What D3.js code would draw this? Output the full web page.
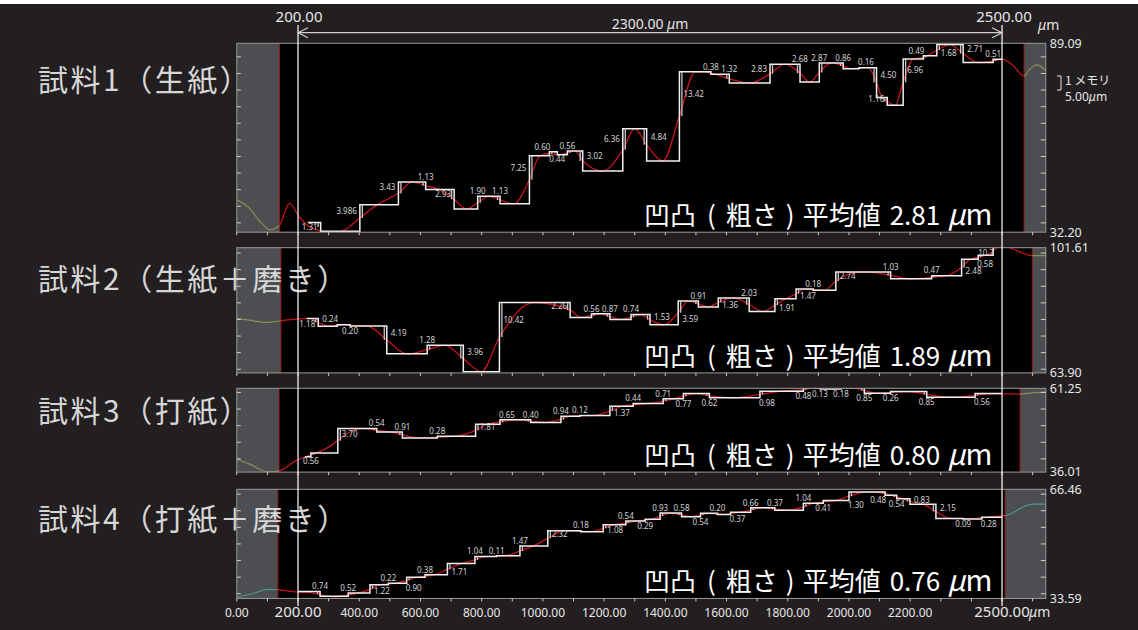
<!DOCTYPE html>
<html>
<head>
<meta charset="utf-8">
<script src="https://cdn.jsdelivr.net/npm/d3@7/dist/d3.min.js"></script>
<style>
  html, body { margin: 0; padding: 0; background: #ffffff; }
  svg { display: block; }
  text { font-family: "Noto Sans", "Noto Sans CJK JP", sans-serif; }
  .jp { font-family: "Noto Sans CJK JP", "Noto Sans", sans-serif; }
</style>
</head>
<body>
<svg id="chart" width="1138" height="630"></svg>
<script>
// ---------------- data ----------------
const sampleNames = ['試料1（生紙）', '試料2（生紙＋磨き）', '試料3（打紙）', '試料4（打紙＋磨き）'];
const averageRoughness = ['2.81', '1.89', '0.80', '0.76'];
const yMinValues = [32.20, 63.90, 36.01, 33.59];
const yMaxValues = [89.09, 101.61, 61.25, 66.46];
const maskLeftEnd = [139, 144, 138, 134];       // µm, masked zone at the left end
const maskRightStart = [2572, 2599, 2559, 2510]; // µm, masked zone at the right end
const xMaxUm = 2643;
const sectionStart = 200, sectionEnd = 2500, sectionLength = 2300;
const xTickValues = [0, 200, 400, 600, 800, 1000, 1200, 1400, 1600, 1800, 2000, 2200, 2500];
const scaleDivision = 5.00; // µm per tick

// sample 1: step profile (start position/level, step positions, half-step heights, direction)
const stepStart1 = [232, 35.10];
const stepAt1 = [274, 402, 528, 617, 710, 787, 860, 956, 1021, 1047, 1080, 1130, 1261, 1339, 1446, 1549, 1609, 1742, 1840, 1903, 1981, 2033, 2090, 2125, 2177, 2243, 2287, 2373, 2471];
const stepLabel1 = ['1.31', '3.986', '3.43', '1.13', '2.93', '1.90', '1.13', '7.25', '0.60', '0.44', '0.56', '3.02', '6.36', '4.84', '13.42', '0.38', '1.32', '2.83', '2.68', '2.87', '0.86', '0.16', '4.50', '1.16', '6.96', '0.49', '1.68', '2.71', '0.51'];
const stepDir1 = [-1, 1, 1, -1, -1, 1, -1, 1, 1, -1, 1, -1, 1, -1, 1, -1, -1, 1, -1, 1, -1, 1, -1, -1, 1, 1, 1, -1, 1];
const profile1 = [[0,42.0],[40,39.5],[80,35.0],[108,32.9],[139,34.2],[172,40.9],[205,36.7],[240,33.6],[275,32.6],[320,32.0],[360,33.3],[402,36.5],[465,40.8],[500,42.5],[528,43.9],[572,47.3],[617,46.2],[663,45.0],[710,42.1],[750,39.2],[787,41.1],[823,43.0],[860,41.9],[905,40.7],[956,48.0],[990,55.2],[1021,55.9],[1047,55.4],[1080,56.1],[1105,56.7],[1130,53.7],[1195,50.6],[1261,57.0],[1300,63.4],[1339,58.5],[1392,53.7],[1446,67.1],[1497,80.5],[1549,80.1],[1609,78.4],[1675,77.1],[1742,79.9],[1791,82.8],[1840,80.1],[1871,77.4],[1903,80.3],[1942,83.2],[1981,82.3],[2007,81.4],[2033,81.6],[2062,81.8],[2090,77.3],[2107,72.8],[2125,71.6],[2151,70.4],[2177,77.4],[2210,84.4],[2243,84.8],[2287,87.0],[2330,88.7],[2373,86.0],[2422,83.3],[2471,83.8],[2500,84.3],[2535,82.5],[2572,79.2],[2590,81.2],[2613,82.6],[2643,80.8]];

// sample 2
const stepStart2 = [228, 80.30];
const stepAt2 = [266, 328, 370, 490, 622, 740, 858, 1089, 1159, 1219, 1288, 1350, 1442, 1508, 1573, 1674, 1758, 1827, 1883, 1957, 2136, 2270, 2368, 2422, 2471];
const stepLabel2 = ['1.18', '0.24', '0.20', '4.19', '1.28', '3.96', '10.42', '2.26', '0.56', '0.87', '0.74', '1.53', '3.59', '0.91', '1.36', '2.03', '1.91', '1.47', '0.18', '2.74', '1.03', '0.47', '2.48', '0.58', '10.7'];
const stepDir2 = [-1, 1, -1, -1, 1, -1, 1, -1, 1, -1, 1, -1, 1, -1, 1, -1, 1, 1, -1, 1, -1, 1, 1, 1, 1];
const profile2 = [[0,80.3],[40,79.8],[95,79.1],[144,79.6],[200,80.2],[240,80.3],[266,79.1],[300,78.0],[328,78.2],[350,78.4],[370,78.2],[430,77.9],[490,73.8],[556,69.6],[622,70.9],[681,72.2],[740,68.2],[799,64.3],[858,74.7],[970,85.1],[1089,82.9],[1124,80.6],[1159,81.2],[1189,81.7],[1219,80.9],[1253,80.0],[1288,80.7],[1319,81.4],[1350,79.9],[1396,78.4],[1442,82.0],[1475,85.6],[1508,84.7],[1540,83.8],[1573,85.1],[1623,86.5],[1674,84.5],[1716,82.4],[1758,84.3],[1792,86.2],[1827,87.7],[1855,89.2],[1883,89.0],[1920,88.8],[1957,91.6],[2046,94.3],[2136,93.3],[2203,92.2],[2270,92.7],[2320,93.2],[2368,95.7],[2395,98.1],[2422,98.7],[2461,99.9],[2483,101.6],[2505,102.3],[2526,101.6],[2560,100.3],[2599,99.2],[2620,99.2],[2643,99.2]];

// sample 3
const stepStart3 = [223, 40.65];
const stepAt3 = [242, 330, 457, 541, 655, 780, 860, 960, 1059, 1121, 1219, 1295, 1393, 1459, 1544, 1709, 1851, 1905, 1974, 2050, 2136, 2254, 2412];
const stepLabel3 = ['0.56', '3.70', '0.54', '0.91', '0.28', '1.81', '0.65', '0.40', '0.94', '0.12', '1.37', '0.44', '0.71', '0.77', '0.62', '0.98', '0.48', '0.13', '0.18', '0.85', '0.26', '0.85', '0.56'];
const stepDir3 = [1, 1, -1, -1, 1, 1, 1, -1, 1, 1, 1, 1, 1, 1, -1, 1, 1, -1, 1, -1, 1, -1, 1];
const profile3 = [[0,39.9],[40,38.5],[103,36.1],[138,36.4],[196,39.6],[242,41.2],[290,43.0],[330,45.5],[370,48.1],[410,49.2],[457,48.6],[500,48.1],[541,47.2],[600,46.3],[655,46.5],[720,46.9],[780,48.6],[820,50.5],[860,51.1],[910,51.75],[960,51.35],[1010,50.95],[1059,51.9],[1090,52.85],[1121,52.95],[1170,53.1],[1219,54.4],[1257,55.8],[1295,56.25],[1345,56.7],[1393,57.4],[1426,58.1],[1459,58.9],[1500,59.65],[1544,59.0],[1626,58.4],[1709,59.4],[1780,60.4],[1851,60.85],[1878,61.3],[1905,61.2],[1940,61.1],[1974,61.25],[2012,61.4],[2050,60.6],[2093,59.75],[2136,60.0],[2195,60.25],[2254,59.4],[2333,58.55],[2412,59.1],[2456,59.6],[2500,59.6],[2559,59.5],[2600,59.9],[2643,60.1]];

// sample 4
const stepStart4 = [200, 35.70];
const stepAt4 = [272, 364, 435, 495, 555, 615, 688, 778, 849, 925, 1016, 1124, 1197, 1271, 1334, 1383, 1453, 1515, 1570, 1613, 1679, 1758, 1851, 1916, 2000, 2118, 2156, 2199, 2284, 2373, 2434];
const stepLabel4 = ['0.74', '0.52', '1.22', '0.22', '0.90', '0.38', '1.71', '1.04', '0.11', '1.47', '2.32', '0.18', '1.08', '0.54', '0.29', '0.93', '0.58', '0.54', '0.20', '0.37', '0.66', '0.37', '1.04', '0.41', '1.30', '0.48', '0.54', '0.83', '2.15', '0.09', '0.28'];
const stepDir4 = [-1, 1, 1, 1, 1, 1, 1, 1, 1, 1, 1, -1, 1, 1, 1, 1, -1, 1, -1, 1, 1, -1, 1, 1, 1, -1, -1, -1, -1, -1, 1];
const profile4 = [[0,34.0],[50,35.0],[103,36.3],[134,36.2],[170,35.8],[200,35.5],[236,35.4],[272,34.7],[318,34.1],[364,34.6],[400,35.3],[435,36.3],[465,37.7],[495,37.9],[525,38.3],[555,39.0],[585,39.9],[615,40.3],[650,40.8],[688,42.4],[733,44.1],[778,45.2],[813,46.2],[849,46.3],[887,46.6],[925,47.9],[970,49.4],[1016,51.7],[1070,54.0],[1124,53.8],[1160,53.7],[1197,54.7],[1234,55.8],[1271,56.3],[1303,56.9],[1334,57.2],[1358,57.5],[1383,58.4],[1418,59.3],[1453,58.7],[1484,58.2],[1515,58.7],[1542,59.2],[1570,59.0],[1592,58.85],[1613,59.2],[1646,59.6],[1679,60.2],[1718,60.9],[1758,60.5],[1805,60.2],[1851,61.2],[1883,62.2],[1916,62.65],[1958,63.1],[2000,64.4],[2059,65.7],[2118,65.2],[2137,64.7],[2156,64.2],[2178,63.6],[2199,62.8],[2242,62.0],[2284,59.8],[2330,57.7],[2373,57.6],[2404,57.6],[2434,57.9],[2467,58.2],[2510,58.5],[2540,59.6],[2570,61.2],[2602,62.0],[2643,62.0]];

// ---------------- label placement (per step) ----------------
const labelPlace1 = ['l2','l','l','a','l','a','a','l','al','b','a','r','l','r','r','a','a','l','a','a','a','ar','r','l','r','al','r2','r','a'];
const labelPlace2 = ['l2','al','b','r','a','r','r','l','a','a','a','r','r2','a','r2','a','r2','r2','a','r','a','a','r2','br','al'];
const labelPlace3 = ['b','r','a','a','a','r','ar','a','a','a','r2','a','a','b','b','br','b','b','b','b','b','b','br'];
const labelPlace4 = ['a','a','r2','a','br','a','r2','a','a','a','r','a','r2','a','b','a','a','b','a','br','a','a','a','b','br','bl','b','r','r','b','br'];

// ---------------- layout ----------------
const W = 1138, H = 630;
const pxPerUm = 3.32;
const panelTops = [43.3, 247.7, 388.3, 489.3];
const labelBaselines = [91, 290, 422, 530];
const maskCurveColors = ['#8e8c50', '#8e8c50', '#8e8c50', '#4f9797'];

const panels = [
  { start: stepStart1, at: stepAt1, labels: stepLabel1, dir: stepDir1, profile: profile1, place: labelPlace1 },
  { start: stepStart2, at: stepAt2, labels: stepLabel2, dir: stepDir2, profile: profile2, place: labelPlace2 },
  { start: stepStart3, at: stepAt3, labels: stepLabel3, dir: stepDir3, profile: profile3, place: labelPlace3 },
  { start: stepStart4, at: stepAt4, labels: stepLabel4, dir: stepDir4, profile: profile4, place: labelPlace4 }
];

const svg = d3.select('#chart');
svg.append('rect').attr('width', W).attr('height', H).attr('fill', '#231f20');
svg.append('rect').attr('width', W).attr('height', 4).attr('fill', '#ffffff');
const defs = svg.append('defs');

const x = d3.scaleLinear().domain([0, xMaxUm]).range([236.8, 1045.8]);
const fmt = d3.format('.2f');
const xl = x(0), xr = x(xMaxUm);

panels.forEach((p, i) => {
  const yMin = yMinValues[i], yMax = yMaxValues[i];
  const top = panelTops[i];
  const h = (yMax - yMin) * pxPerUm;
  const bottom = top + h;
  const y = d3.scaleLinear().domain([yMin, yMax]).range([bottom, top]);
  const xg1 = x(maskLeftEnd[i]), xg2 = x(maskRightStart[i]);

  defs.append('clipPath').attr('id', `clip-area-${i}`)
    .append('rect').attr('x', xl).attr('y', top).attr('width', xr - xl).attr('height', h);
  const cg = defs.append('clipPath').attr('id', `clip-mask-${i}`);
  cg.append('rect').attr('x', xl).attr('y', top).attr('width', xg1 - xl).attr('height', h);
  cg.append('rect').attr('x', xg2).attr('y', top).attr('width', xr - xg2).attr('height', h);
  defs.append('clipPath').attr('id', `clip-mid-${i}`)
    .append('rect').attr('x', xg1).attr('y', top).attr('width', xg2 - xg1).attr('height', h);

  const g = svg.append('g');
  g.append('rect').attr('x', xl).attr('y', top).attr('width', xr - xl).attr('height', h).attr('fill', '#000');
  g.append('rect').attr('x', xl).attr('y', top).attr('width', xg1 - xl).attr('height', h).attr('fill', '#4c4e51');
  g.append('rect').attr('x', xg2).attr('y', top).attr('width', xr - xg2).attr('height', h).attr('fill', '#4c4e51');
  [xg1, xg2].forEach(xx => g.append('line').attr('x1', xx).attr('x2', xx).attr('y1', top).attr('y2', bottom)
    .attr('stroke', '#9a1c1c').attr('stroke-width', 1));

  // smoothed profile
  const curve = d3.line().x(d => x(d[0])).y(d => y(d[1])).curve(d3.curveMonotoneX);
  g.append('path').attr('d', curve(p.profile)).attr('fill', 'none')
    .attr('stroke', maskCurveColors[i]).attr('stroke-width', 1.2).attr('clip-path', `url(#clip-mask-${i})`);
  g.append('path').attr('d', curve(p.profile)).attr('fill', 'none')
    .attr('stroke', '#c3141c').attr('stroke-width', 1.3).attr('clip-path', `url(#clip-mid-${i})`);

  // step levels from half-step heights
  const levels = [p.start[1]];
  p.at.forEach((b, k) => levels.push(levels[k] + p.dir[k] * 2 * (+p.labels[k])));
  const pts = [[p.start[0], levels[0]]];
  p.at.forEach((b, k) => pts.push([b, levels[k + 1]]));
  pts.push([sectionEnd, levels[levels.length - 1]]);
  const stepLine = d3.line().x(d => x(d[0])).y(d => y(d[1])).curve(d3.curveStepAfter);
  const sg = g.append('g').attr('clip-path', `url(#clip-area-${i})`);
  sg.append('path').attr('d', stepLine(pts)).attr('fill', 'none')
    .attr('stroke', '#f0f0f0').attr('stroke-width', 1.5);

  // half-height marker next to each step, and the step value
  p.at.forEach((b, k) => {
    const v = +p.labels[k];
    const up = Math.max(levels[k], levels[k + 1]);
    const lo = Math.min(levels[k], levels[k + 1]);
    const xs = x(b);
    const xm = xs + (p.dir[k] > 0 ? 2.5 : -2.5);
    sg.append('line').attr('x1', xm).attr('x2', xm).attr('y1', y(up)).attr('y2', y(up - v))
      .attr('stroke', '#c8c8c8').attr('stroke-width', 1.3);

    const yUp = y(up), yLo = y(lo), jp = yLo - yUp;
    const code = p.place[k];
    let tx = xs, ty = yUp, anchor = 'middle';
    if (code[0] === 'l' || code[0] === 'r') {
      ty = yUp + jp * (code[1] === '2' ? 0.75 : 0.25);
      if (code[0] === 'l') { tx = xs - 3; anchor = 'end'; } else { tx = xs + 4; anchor = 'start'; }
    } else {
      ty = code[0] === 'a' ? yUp - 5 : yLo + 5;
      if (code[1] === 'l') { tx = xs + 1; anchor = 'end'; }
      else if (code[1] === 'r') { tx = xs - 1; anchor = 'start'; }
    }
    ty = Math.max(top + 5, Math.min(bottom - 5, ty));
    g.append('text').attr('x', tx).attr('y', ty).attr('dy', '0.35em').attr('text-anchor', anchor)
      .attr('fill', '#d4d4d4').style('font-size', '8px').text(p.labels[k]);
  });

  // frame and ticks
  g.append('rect').attr('x', xl).attr('y', top).attr('width', xr - xl).attr('height', h)
    .attr('fill', 'none').attr('stroke', '#9a9a9a').attr('stroke-width', 1);
  const yt = d3.range(Math.ceil(yMin / scaleDivision) * scaleDivision, yMax, scaleDivision);
  yt.forEach(v => {
    g.append('line').attr('x1', xl).attr('x2', xl + 4).attr('y1', y(v)).attr('y2', y(v)).attr('stroke', '#cfcfcf');
    g.append('line').attr('x1', xr - 5).attr('x2', xr).attr('y1', y(v)).attr('y2', y(v)).attr('stroke', '#cfcfcf');
  });
  d3.range(0, xMaxUm, 100).forEach(v => {
    g.append('line').attr('x1', x(v)).attr('x2', x(v)).attr('y1', bottom).attr('y2', bottom + 3).attr('stroke', '#cfcfcf');
  });

  // range labels on the right
  g.append('text').attr('x', xr + 4).attr('y', top).attr('dy', '0.35em').attr('fill', '#e6e6e6')
    .style('font-size', '12.5px').text(fmt(yMax));
  g.append('text').attr('x', xr + 4).attr('y', bottom).attr('dy', '0.35em').attr('fill', '#e6e6e6')
    .style('font-size', '12.5px').text(fmt(yMin));

  // average roughness
  const t = g.append('text').attr('class', 'jp').attr('x', 644).attr('y', bottom - 7)
    .attr('fill', '#ffffff').style('font-size', '26px');
  t.append('tspan').text('凹凸');
  t.append('tspan').attr('dx', 11).text('(');
  t.append('tspan').attr('dx', 10).text('粗さ');
  t.append('tspan').attr('dx', 8).text(')');
  t.append('tspan').attr('dx', 8).text('平均値');
  t.append('tspan').attr('dx', 9).text(averageRoughness[i]);
  t.append('tspan').attr('dx', 7).style('font-style', 'italic').style('font-size', '29px').text('μ');
  t.append('tspan').style('font-size', '29px').text('m');

  // sample name
  svg.append('text').attr('class', 'jp').attr('x', 38).attr('y', labelBaselines[i])
    .attr('fill', '#d6d6d6').style('font-size', '30px').style('letter-spacing', '2.5px')
    .text(sampleNames[i]);
});

// scale note for the top panel
const sn = svg.append('g');
sn.append('path').attr('d', 'M1057,76 H1061 V90 H1057').attr('fill', 'none').attr('stroke', '#e6e6e6');
sn.append('text').attr('class', 'jp').attr('x', 1065).attr('y', 84.5).attr('fill', '#e6e6e6')
  .style('font-size', '12px').text('1 メモリ');
const sn2 = sn.append('text').attr('x', 1065).attr('y', 101).attr('fill', '#e6e6e6').style('font-size', '12px');
sn2.append('tspan').text(fmt(scaleDivision));
sn2.append('tspan').style('font-style', 'italic').text('μ');
sn2.append('tspan').text('m');

// bottom axis labels
const bottomAxisY = 617;
xTickValues.forEach(v => {
  const major = v === sectionStart || v === sectionEnd;
  svg.append('text').attr('x', x(v)).attr('y', bottomAxisY).attr('text-anchor', 'middle')
    .attr('fill', '#e6e6e6').style('font-size', major ? '15px' : '12px').text(fmt(v));
});
const bu = svg.append('text').attr('x', x(sectionEnd) + 27).attr('y', bottomAxisY).attr('fill', '#e6e6e6').style('font-size', '14px');
bu.append('tspan').style('font-style', 'italic').text('μ');
bu.append('tspan').text('m');

// measured section: bounds, dimension line and length
const xs0 = x(sectionStart), xs1 = x(sectionEnd);
[xs0, xs1].forEach(xx => svg.append('line').attr('x1', xx).attr('x2', xx).attr('y1', 25).attr('y2', 606)
  .attr('stroke', '#ffffff').attr('stroke-width', 1.2));
const dimY = 32.7;
svg.append('line').attr('x1', xs0).attr('x2', xs1).attr('y1', dimY).attr('y2', dimY).attr('stroke', '#cfcfcf').attr('stroke-width', 1.2);
svg.append('path').attr('d', `M${xs0 + 10},${dimY - 5} L${xs0},${dimY} L${xs0 + 10},${dimY + 5}`)
  .attr('fill', 'none').attr('stroke', '#cfcfcf').attr('stroke-width', 1.2);
svg.append('path').attr('d', `M${xs1 - 10},${dimY - 5} L${xs1},${dimY} L${xs1 - 10},${dimY + 5}`)
  .attr('fill', 'none').attr('stroke', '#cfcfcf').attr('stroke-width', 1.2);
svg.append('text').attr('x', xs0 + 1).attr('y', 21.5).attr('text-anchor', 'middle').attr('fill', '#e6e6e6')
  .style('font-size', '15px').text(fmt(sectionStart));
svg.append('text').attr('x', xs1 + 2).attr('y', 21.5).attr('text-anchor', 'middle').attr('fill', '#e6e6e6')
  .style('font-size', '15px').text(fmt(sectionEnd));
const tu = svg.append('text').attr('x', xs1 + 36).attr('y', 30).attr('fill', '#e6e6e6').style('font-size', '14px');
tu.append('tspan').style('font-style', 'italic').text('μ');
tu.append('tspan').text('m');
const lt = svg.append('text').attr('x', (xs0 + xs1) / 2).attr('y', 29).attr('text-anchor', 'middle')
  .attr('fill', '#e6e6e6').style('font-size', '14px');
lt.append('tspan').text(fmt(sectionLength) + ' ');
lt.append('tspan').style('font-style', 'italic').text('μ');
lt.append('tspan').text('m');
</script>
</body>
</html>
